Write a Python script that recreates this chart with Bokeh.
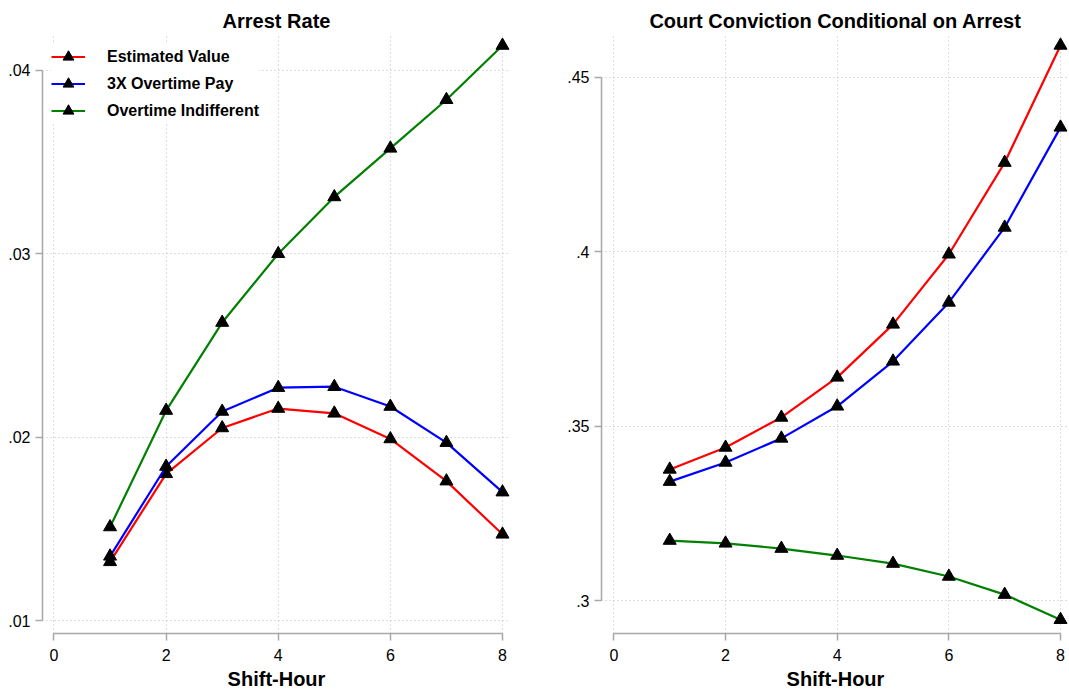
from bokeh.plotting import figure
from bokeh.layouts import row
from bokeh.models import FixedTicker
from bokeh.embed import file_html
from bokeh.resources import INLINE

FONT = "Liberation Sans"

hours = [1, 2, 3, 4, 5, 6, 7, 8]

# Arrest rate by shift-hour
arrest_estimated = [0.0132, 0.0180, 0.0205, 0.02156, 0.0213, 0.0199, 0.0176, 0.0147]
arrest_3x_pay = [0.0135, 0.0184, 0.0214, 0.0227, 0.02275, 0.02167, 0.0197, 0.0170]
arrest_indifferent = [0.0151, 0.02145, 0.02625, 0.0300, 0.0331, 0.03575, 0.0384, 0.04136]

# court conviction conditional on arrest
conv_estimated = [0.3376, 0.3439, 0.3525, 0.3640, 0.3792, 0.3993, 0.4256, 0.4592]
conv_3x_pay = [0.3341, 0.3396, 0.3465, 0.3557, 0.3686, 0.3855, 0.4070, 0.4357]
conv_indifferent = [0.3172, 0.3164, 0.3149, 0.3129, 0.3106, 0.3069, 0.3017, 0.2945]

series_names = ["Estimated Value", "3X Overtime Pay", "Overtime Indifferent"]
series_colors = ["red", "blue", "green"]

arrest_ticks = [0.01, 0.02, 0.03, 0.04]
arrest_tick_labels = [".01", ".02", ".03", ".04"]
conv_ticks = [0.3, 0.35, 0.4, 0.45]
conv_tick_labels = [".3", ".35", ".4", ".45"]
hour_ticks = [0, 2, 4, 6, 8]


def make_panel(title, width, x_range, y_range, yticks, ylabels, border_left, border_right):
    p = figure(
        width=width, height=692,
        x_range=x_range, y_range=y_range,
        title=title,
        output_backend="svg", toolbar_location=None,
        min_border_left=border_left, min_border_right=border_right,
        min_border_top=34, min_border_bottom=59,
    )
    p.outline_line_color = None
    p.background_fill_color = "white"

    p.title.text_font = FONT
    p.title.text_font_size = "20px"
    p.title.text_font_style = "bold"
    p.title.text_color = "black"
    p.title.align = "center"
    p.title.standoff = 6

    for ax in (p.xaxis[0], p.yaxis[0]):
        ax.axis_line_color = "#a8a8a8"
        ax.axis_line_width = 1.5
        ax.major_tick_line_color = "#a8a8a8"
        ax.major_tick_line_width = 1.5
        ax.major_tick_out = 7
        ax.major_tick_in = 0
        ax.minor_tick_out = 0
        ax.minor_tick_in = 0
        ax.major_label_text_font = FONT
        ax.major_label_text_font_size = "16px"
        ax.major_label_text_color = "black"

    p.xaxis.ticker = FixedTicker(ticks=hour_ticks, minor_ticks=[])
    p.xaxis.bounds = (0, 8)
    p.xaxis.major_label_standoff = 8
    p.xaxis.axis_label = "Shift-Hour"
    p.xaxis.axis_label_text_font = FONT
    p.xaxis.axis_label_text_font_size = "20px"
    p.xaxis.axis_label_text_font_style = "bold"
    p.xaxis.axis_label_text_color = "black"
    p.xaxis.axis_label_standoff = 4

    p.yaxis.ticker = FixedTicker(ticks=yticks, minor_ticks=[])
    p.yaxis.bounds = (yticks[0], yticks[-1])
    p.yaxis.major_label_standoff = 5
    p.yaxis.major_label_orientation = "horizontal"
    p.yaxis.major_label_overrides = dict(zip(yticks, ylabels))

    for g in (p.xgrid[0], p.ygrid[0]):
        g.grid_line_color = "#bdbdbd"
        g.grid_line_dash = "1 3"
        g.grid_line_width = 1
    return p


left = make_panel("Arrest Rate", 540, (-0.205, 8.143), (0.009291, 0.04196),
                  arrest_ticks, arrest_tick_labels, 42, 30)
right = make_panel("Court Conviction Conditional on Arrest", 529, (-0.222, 8.161), (0.29054, 0.46233),
                   conv_ticks, conv_tick_labels, 61, 0)

for vals, name, color in zip([arrest_estimated, arrest_3x_pay, arrest_indifferent], series_names, series_colors):
    left.line(hours, vals, line_color=color, line_width=2.2, legend_label=name)
    left.scatter(hours, vals, marker="triangle", size=13, fill_color="black",
                 line_color="black", legend_label=name)

for vals, color in zip([conv_estimated, conv_3x_pay, conv_indifferent], series_colors):
    right.line(hours, vals, line_color=color, line_width=2.2)
    right.scatter(hours, vals, marker="triangle", size=13, fill_color="black", line_color="black")

lg = left.legend[0]
lg.location = "top_left"
lg.border_line_alpha = 0
lg.background_fill_color = "white"
lg.background_fill_alpha = 1
lg.margin = 9
lg.padding = 0
lg.spacing = 0
lg.glyph_width = 34
lg.glyph_height = 27
lg.label_height = 27
lg.label_standoff = 22
lg.label_text_font = FONT
lg.label_text_font_size = "16px"
lg.label_text_font_style = "bold"
lg.label_text_color = "black"

layout = row(left, right)

open("out.html", "w").write(file_html(layout, INLINE))
